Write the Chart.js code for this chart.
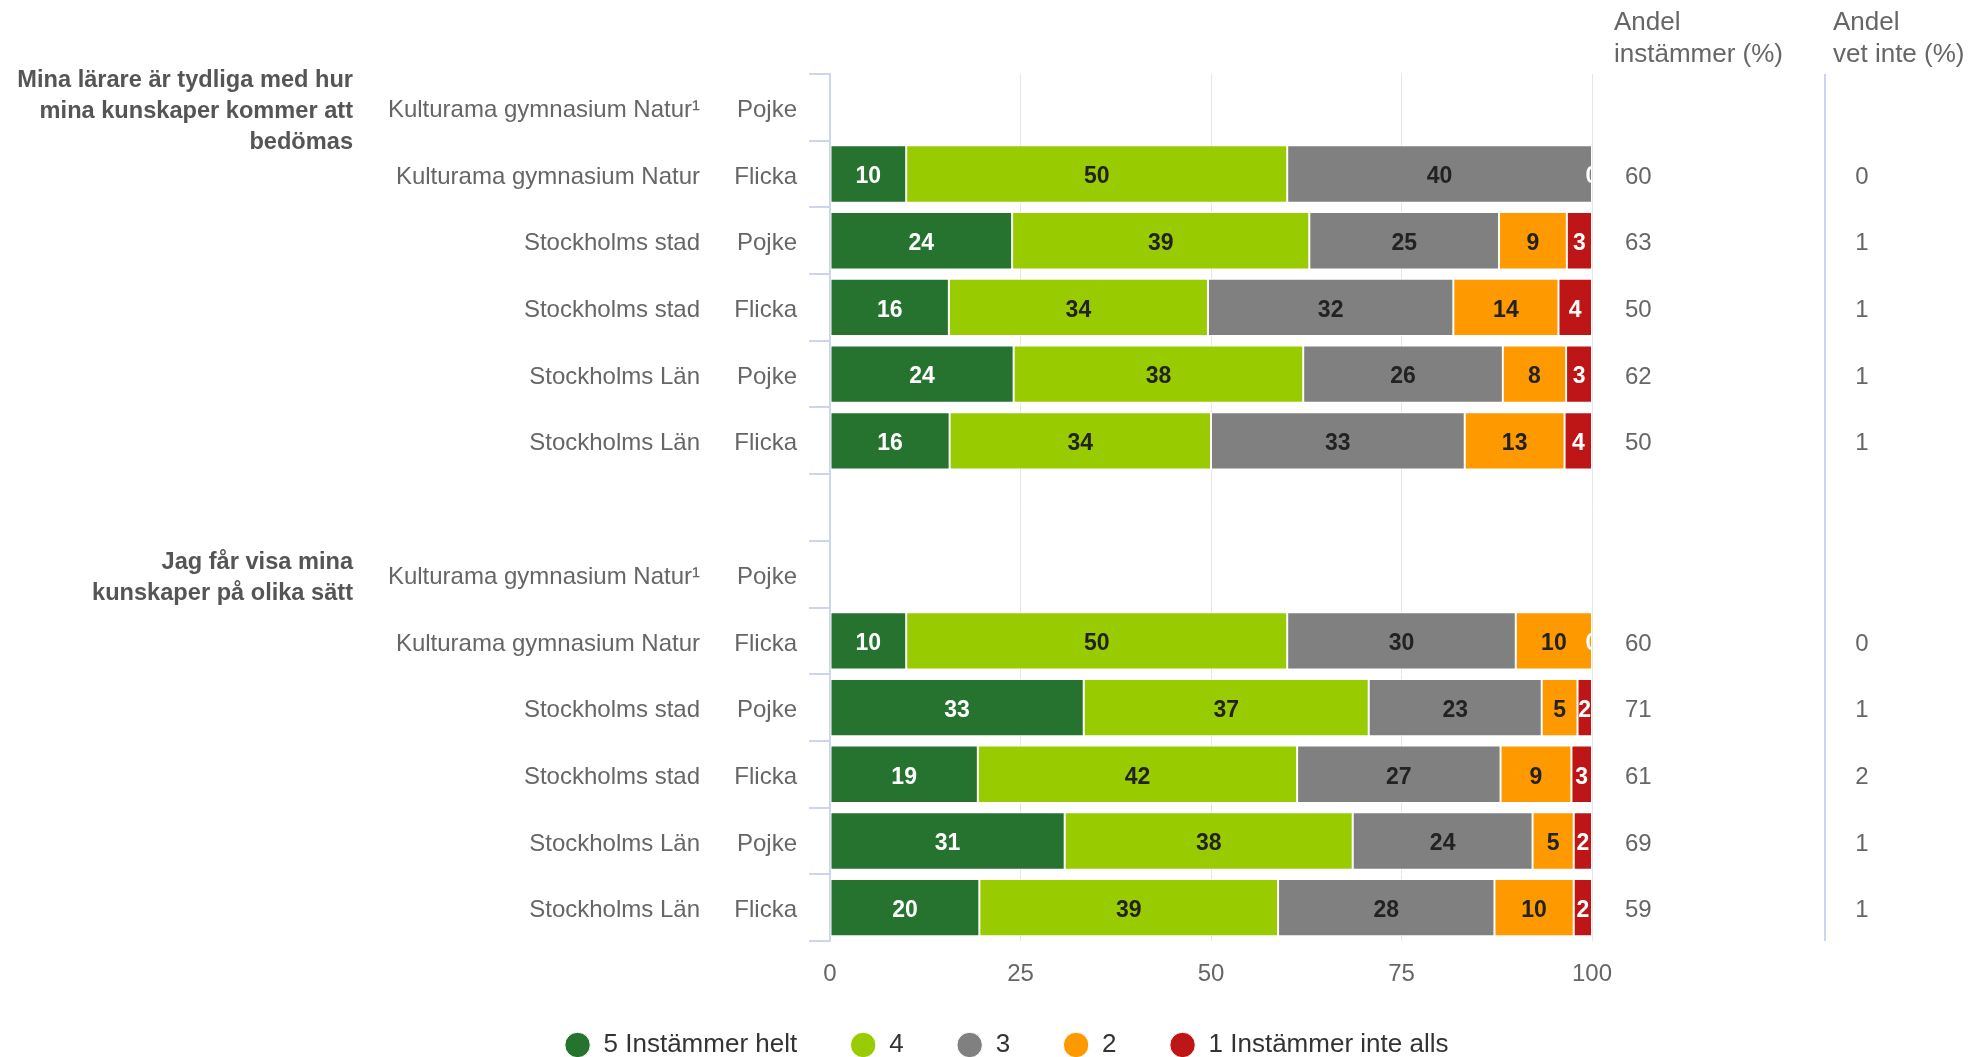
<!DOCTYPE html>
<html lang="sv">
<head>
  <meta charset="UTF-8">
  <title>Bedömning – elevenkät</title>
  <style>
    html, body { margin: 0; padding: 0; background: #fff; }
    .wrap { position: relative; width: 1973px; height: 1057px; }
  </style>
</head>
<body>
<div class="wrap"><canvas id="chart"></canvas></div>

<script src="https://cdn.jsdelivr.net/npm/chart.js@4.4.0/dist/chart.umd.min.js"></script>
<script>
  // rows, top to bottom (row 6 is the empty gap between the two questions)
  const schools = [
    'Kulturama gymnasium Natur¹', 'Kulturama gymnasium Natur', 'Stockholms stad', 'Stockholms stad', 'Stockholms Län', 'Stockholms Län',
    '',
    'Kulturama gymnasium Natur¹', 'Kulturama gymnasium Natur', 'Stockholms stad', 'Stockholms stad', 'Stockholms Län', 'Stockholms Län'
  ];
  const genders = ['Pojke', 'Flicka', 'Pojke', 'Flicka', 'Pojke', 'Flicka', '', 'Pojke', 'Flicka', 'Pojke', 'Flicka', 'Pojke', 'Flicka'];

  const question1 = ['Mina lärare är tydliga med hur', 'mina kunskaper kommer att', 'bedömas'];
  const question2 = ['Jag får visa mina', 'kunskaper på olika sätt'];
  const questionRows = [0, 7];

  // percent per answer (labels show rounded values)
  const instHelt   = [null, 10, 23.9, 15.6, 24.1, 15.7, null, null, 10, 33.3, 19.4, 30.8, 19.6];
  const svar4      = [null, 50, 39.0, 34.0, 38.0, 34.3, null, null, 50, 37.4, 41.9, 37.8, 39.2];
  const svar3      = [null, 40, 24.9, 32.2, 26.2, 33.3, null, null, 30, 22.7, 26.7, 23.6, 28.4];
  const svar2      = [null, 0, 8.9, 13.8, 8.3, 13.1, null, null, 10, 4.7, 9.3, 5.4, 10.4];
  const instInte   = [null, 0, 3.3, 4.4, 3.4, 3.6, null, null, 0, 1.9, 2.7, 2.4, 2.4];

  const seriesNames = ['5 Instämmer helt', '4', '3', '2', '1 Instämmer inte alls'];
  const seriesColors = ['#267330', '#99cc00', '#808080', '#ff9900', '#be1616'];
  const labelColors = ['#ffffff', '#222222', '#222222', '#222222', '#ffffff'];

  const andelInstammer = [null, 60, 63, 50, 62, 50, null, null, 60, 71, 61, 69, 59];
  const andelVetInte   = [null, 0, 1, 1, 1, 1, null, null, 0, 1, 2, 1, 1];

  const FONT = '"Liberation Sans", Arial, Helvetica, sans-serif';
  Chart.defaults.font.family = FONT;
  Chart.defaults.color = '#666';

  const seriesData = [instHelt, svar4, svar3, svar2, instInte];

  // numbers inside the bar segments
  const barLabels = {
    id: 'barLabels',
    afterDatasetsDraw(chart) {
      const { ctx, chartArea } = chart;
      const last = chart.data.datasets.length - 1;
      ctx.save();
      ctx.beginPath();
      ctx.rect(chartArea.left, chartArea.top, chartArea.width, chartArea.height);
      ctx.clip();
      ctx.font = 'bold 23px ' + FONT;
      ctx.textAlign = 'center';
      ctx.textBaseline = 'middle';
      chart.data.datasets.forEach((ds, di) => {
        chart.getDatasetMeta(di).data.forEach((bar, i) => {
          const v = ds.data[i];
          if (v === null) return;
          if (v === 0 && di !== last) return;
          const { x, base, y } = bar.getProps(['x', 'base', 'y'], true);
          ctx.fillStyle = labelColors[di];
          ctx.fillText(Math.round(v), (x + base) / 2, y + 3);
        });
      });
      ctx.restore();
    }
  };

  // row labels, question labels and the two value columns on the right
  const sideText = {
    id: 'sideText',
    afterDraw(chart) {
      const { ctx, chartArea, scales: { y } } = chart;
      const left = chartArea.left;
      ctx.save();
      ctx.textBaseline = 'middle';
      ctx.fillStyle = '#666';
      ctx.font = '24px ' + FONT;

      schools.forEach((s, i) => {
        const py = y.getPixelForValue(i) + 3;
        ctx.textAlign = 'right';
        ctx.fillText(s, left - 130, py);
        ctx.fillText(genders[i], left - 33, py);
        if (andelInstammer[i] !== null) {
          ctx.textAlign = 'left';
          ctx.fillText(andelInstammer[i], chartArea.right + 33, py);
          ctx.textAlign = 'center';
          ctx.fillText(andelVetInte[i], chartArea.right + 270, py);
        }
      });

      // column headers
      ctx.font = '26px ' + FONT;
      ctx.textAlign = 'left';
      ctx.fillText('Andel', chartArea.right + 22, 23);
      ctx.fillText('instämmer (%)', chartArea.right + 22, 55);
      ctx.fillText('Andel', chartArea.right + 241, 23);
      ctx.fillText('vet inte (%)', chartArea.right + 241, 55);

      // separator before the last column
      ctx.strokeStyle = '#ccd6eb';
      ctx.lineWidth = 2;
      ctx.beginPath();
      ctx.moveTo(chartArea.right + 233, chartArea.top);
      ctx.lineTo(chartArea.right + 233, chartArea.bottom);
      ctx.stroke();

      // question texts
      ctx.font = 'bold 23.6px ' + FONT;
      ctx.fillStyle = '#555';
      ctx.textAlign = 'right';
      [question1, question2].forEach((lines, q) => {
        const cy = y.getPixelForValue(questionRows[q]) + 4;
        const lh = 31;
        lines.forEach((t, k) => {
          ctx.fillText(t, left - 477, cy + (k - (lines.length - 1) / 2) * lh);
        });
      });
      ctx.restore();
    }
  };

  // the x tick labels are clipped to the axis box; the legend sits tight
  // underneath, so give the labels a bit of room after layout
  const tickRoom = {
    id: 'tickRoom',
    afterLayout(chart) { chart.scales.x.bottom += 20; }
  };

  new Chart(document.getElementById('chart'), {
    type: 'bar',
    data: {
      labels: schools.map((s, i) => s + ' ' + genders[i]),
      datasets: seriesNames.map((name, i) => ({
        label: name,
        data: seriesData[i],
        backgroundColor: seriesColors[i]
      }))
    },
    options: {
      indexAxis: 'y',
      responsive: true,
      maintainAspectRatio: false,
      animation: false,
      layout: { padding: { left: 421, right: 381, top: 74, bottom: -11 } },
      datasets: {
        bar: {
          categoryPercentage: 1,
          barPercentage: 0.86,
          borderColor: '#ffffff',
          borderWidth: 1,
          borderSkipped: false
        }
      },
      plugins: {
        legend: {
          position: 'bottom',
          labels: {
            usePointStyle: true,
            pointStyle: 'circle',
            boxHeight: 18,
            padding: 53,
            color: '#333',
            font: { size: 26 }
          }
        },
        tooltip: { enabled: false }
      },
      scales: {
        x: {
          stacked: true,
          min: 0,
          max: 100,
          ticks: { stepSize: 25, font: { size: 24 }, color: '#666', padding: 19 },
          grid: {
            color: c => (c.tick && c.tick.value === 0) ? 'rgba(0,0,0,0)' : '#e6e6e6',
            drawTicks: false
          },
          border: { display: false },
          afterFit: s => { s.height = 38; }
        },
        y: {
          stacked: true,
          ticks: { display: false },
          grid: { drawOnChartArea: false, offset: true, tickLength: 21, color: '#ccd6eb', lineWidth: 2 },
          border: { color: '#ccd6eb', width: 2 },
          afterFit: s => { s.width = 409; }
        }
      }
    },
    plugins: [barLabels, sideText, tickRoom]
  });
</script>
</body>
</html>
